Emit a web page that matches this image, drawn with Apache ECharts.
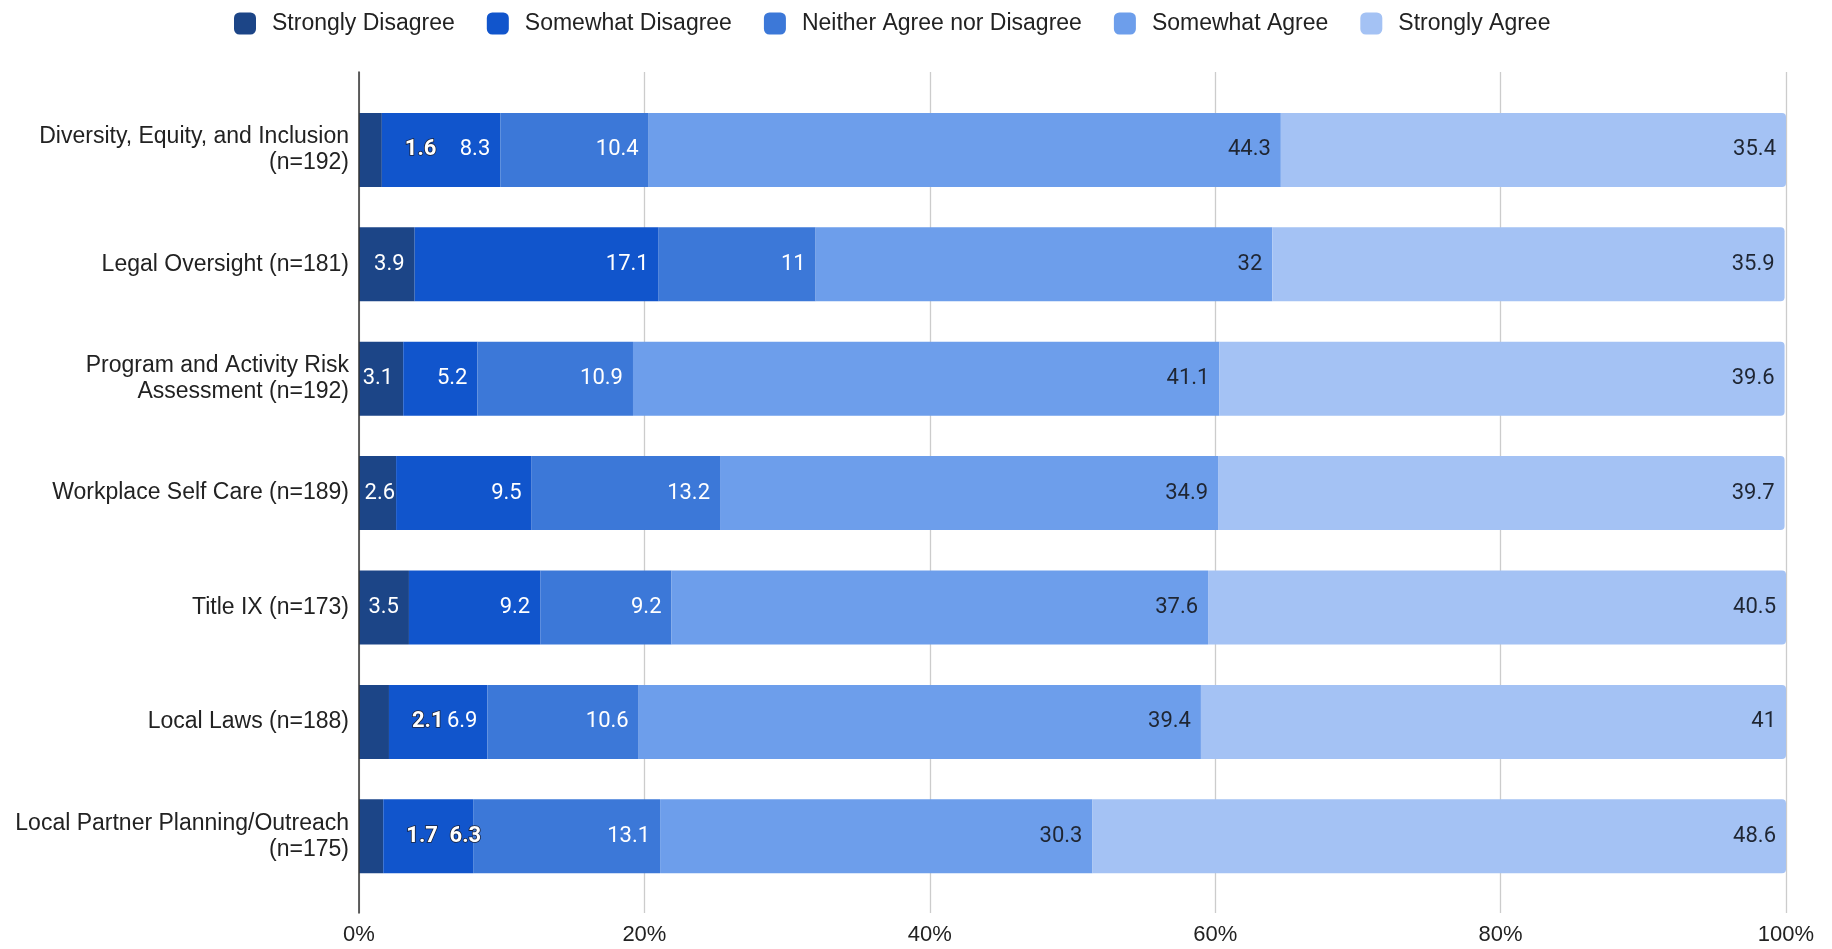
<!DOCTYPE html>
<html>
<head>
<meta charset="utf-8">
<script src="https://cdn.jsdelivr.net/npm/echarts@6/dist/echarts.min.js"></script>
<style>
html,body{margin:0;padding:0;background:#fff;}
#chart{width:1832px;height:949px;}
</style>
</head>
<body>
<div id="chart"></div>
<script>
const categories = [
  "Diversity, Equity, and Inclusion\n(n=192)",
  "Legal Oversight (n=181)",
  "Program and Activity Risk\nAssessment (n=192)",
  "Workplace Self Care (n=189)",
  "Title IX (n=173)",
  "Local Laws (n=188)",
  "Local Partner Planning/Outreach\n(n=175)"
];
const seriesNames = ["Strongly Disagree", "Somewhat Disagree", "Neither Agree nor Disagree", "Somewhat Agree", "Strongly Agree"];
const stronglyDisagree = [1.6, 3.9, 3.1, 2.6, 3.5, 2.1, 1.7];
const somewhatDisagree = [8.3, 17.1, 5.2, 9.5, 9.2, 6.9, 6.3];
const neither = [10.4, 11, 10.9, 13.2, 9.2, 10.6, 13.1];
const somewhatAgree = [44.3, 32, 41.1, 34.9, 37.6, 39.4, 30.3];
const stronglyAgree = [35.4, 35.9, 39.6, 39.7, 40.5, 41, 48.6];
const tickValues = [0, 20, 40, 60, 80, 100];

const values = [stronglyDisagree, somewhatDisagree, neither, somewhatAgree, stronglyAgree];
const colors = ["#1c4587", "#1155cc", "#3c78d8", "#6d9eeb", "#a4c2f4"];
const labelColors = ["#ffffff", "#ffffff", "#ffffff", "#1f2633", "#1f2633"];
// label overrides for segments too narrow for their label (series index -> category indices)
const pushedRight = {0: [0, 5, 6]};
const nudged = {1: [6]};
const tight = {0: [3]};

const outlined = {color: "#ffffff", textBorderColor: "#1a2238", textBorderWidth: 1.6, fontWeight: "bold"};

const series = values.map((arr, si) => ({
  name: seriesNames[si],
  type: "bar",
  stack: "total",
  xAxisIndex: 1,
  yAxisIndex: 1,
  barWidth: 74,
  itemStyle: {color: colors[si], borderRadius: si === 4 ? [0, 4, 4, 0] : 0},
  label: {
    show: true,
    position: "insideRight",
    distance: 10,
    color: labelColors[si],
    fontFamily: "Roboto",
    fontSize: 22
  },
  data: arr.map((v, ci) => {
    if (pushedRight[si] && pushedRight[si].includes(ci)) {
      return {value: v, label: Object.assign({position: "right", distance: 23}, outlined)};
    }
    if (nudged[si] && nudged[si].includes(ci)) {
      return {value: v, label: Object.assign({offset: [18, 0]}, outlined)};
    }
    if (tight[si] && tight[si].includes(ci)) {
      return {value: v, label: {distance: 1}};
    }
    return v;
  })
}));

const chart = echarts.init(document.getElementById("chart"));
chart.setOption({
  animation: false,
  backgroundColor: "#ffffff",
  legend: {
    data: seriesNames,
    left: 229,
    top: 7,
    itemWidth: 22,
    itemHeight: 22,
    itemGap: 32,
    icon: "roundRect",
    textStyle: {fontFamily: "Liberation Sans", fontSize: 23, color: "#222222", padding: [0, 0, 0, 11]}
  },
  grid: [
    {left: 359, right: 46, top: 72, bottom: 36},
    {left: 359, right: 46, top: 92.7, bottom: 55.5}
  ],
  xAxis: [
    {
      gridIndex: 0, type: "value", min: tickValues[0], max: tickValues[tickValues.length - 1], interval: 20,
      axisLine: {show: false}, axisTick: {show: false},
      splitLine: {show: true, lineStyle: {color: "#cccccc", width: 1.3}},
      axisLabel: {formatter: "{value}%", fontFamily: "Liberation Sans", fontSize: 22, color: "#222222", margin: 11}
    },
    {gridIndex: 1, type: "value", min: 0, max: 100, show: false}
  ],
  yAxis: [
    {
      gridIndex: 0, type: "value", min: 0, max: 1, z: 10,
      axisLine: {show: true, lineStyle: {color: "#333333", width: 1.5}},
      axisTick: {show: false}, axisLabel: {show: false}, splitLine: {show: false}
    },
    {
      gridIndex: 1, type: "category", inverse: true, data: categories,
      axisLine: {show: false}, axisTick: {show: false},
      axisLabel: {fontFamily: "Liberation Sans", fontSize: 23, color: "#222222", margin: 10, lineHeight: 26, align: "right"}
    }
  ],
  series: series
});
</script>
</body>
</html>
